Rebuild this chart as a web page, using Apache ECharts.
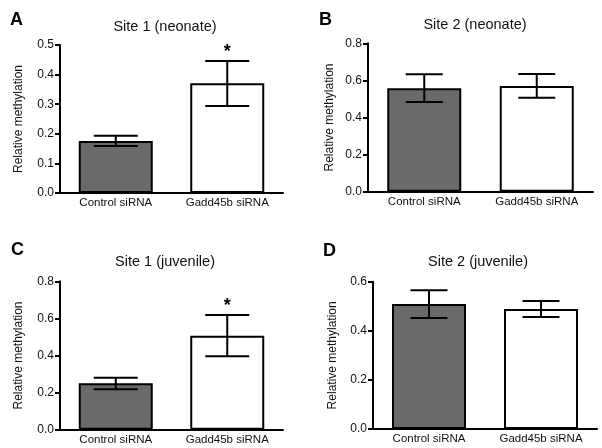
<!DOCTYPE html>
<html><head><meta charset="utf-8">
<script src="https://cdn.jsdelivr.net/npm/echarts@6/dist/echarts.min.js"></script>
<style>html,body{margin:0;padding:0;background:#fff}#c{width:602px;height:448px}</style>
</head><body><div id="c"></div>
<script>
const categories = ['Control siRNA', 'Gadd45b siRNA'];
const panelLetters = ['A', 'B', 'C', 'D'];
const panelTitles = ['Site 1 (neonate)', 'Site 2 (neonate)', 'Site 1 (juvenile)', 'Site 2 (juvenile)'];
const yMax = [0.5, 0.8, 0.8, 0.6];
const yStep = [0.1, 0.2, 0.2, 0.2];
const meanA = [0.176, 0.371];
const meanB = [0.558, 0.570];
const meanC = [0.250, 0.507];
const meanD = [0.509, 0.489];
const lowA = [0.159, 0.294], highA = [0.193, 0.446];
const lowB = [0.484, 0.507], highB = [0.633, 0.635];
const lowC = [0.218, 0.396], highC = [0.280, 0.618];
const lowD = [0.452, 0.456], highD = [0.565, 0.521];
const starA = [0, 1], starB = [0, 0], starC = [0, 1], starD = [0, 0];
const yName = 'Relative methylation';

const means = [meanA, meanB, meanC, meanD];
const lows = [lowA, lowB, lowC, lowD];
const highs = [highA, highB, highC, highD];
const stars = [starA, starB, starC, starD];

const FONT = 'Arial, "Liberation Sans", sans-serif';
const grids = [
  {left: 60, top: 45, width: 223, height: 148},
  {left: 368, top: 43.3, width: 225, height: 148.4},
  {left: 60, top: 281.3, width: 223, height: 148.4},
  {left: 373, top: 281.7, width: 224, height: 147.3}
];
const capHalf = [22, 18.5, 22, 18.5];
const titlePos = [[160, 14], [470, 12], [160, 249], [473, 249]];
const letterPos = [[5, 6], [314, 6], [6, 236], [318, 237]];
const nameGaps = [35, 32, 35, 34];

const option = {
  animation: false,
  backgroundColor: '#fff',
  title: [],
  grid: grids.map(g => Object.assign({containLabel: false}, g)),
  xAxis: [], yAxis: [], series: []
};

for (let p = 0; p < 4; p++) {
  option.title.push({text: panelTitles[p], left: titlePos[p][0], top: titlePos[p][1], textAlign: 'center',
    textStyle: {fontFamily: FONT, fontSize: 14.5, fontWeight: 'normal', color: '#111'}});
  option.title.push({text: panelLetters[p], left: letterPos[p][0], top: letterPos[p][1],
    textStyle: {fontFamily: FONT, fontSize: 18, fontWeight: 'bold', color: '#000'}});
  option.xAxis.push({type: 'category', gridIndex: p, data: categories,
    axisLine: {lineStyle: {color: '#000', width: 2}}, axisTick: {show: false},
    axisLabel: {fontFamily: FONT, fontSize: 11.5, color: '#111', margin: 4}});
  option.yAxis.push({type: 'value', gridIndex: p, min: 0, max: yMax[p], interval: yStep[p],
    name: yName, nameLocation: 'middle', nameGap: nameGaps[p],
    nameTextStyle: {fontFamily: FONT, fontSize: 12, color: '#111'},
    axisLine: {show: true, lineStyle: {color: '#000', width: 2}},
    axisTick: {show: true, inside: false, length: 5, lineStyle: {color: '#000', width: 2}},
    splitLine: {show: false},
    axisLabel: {fontFamily: FONT, fontSize: 12, color: '#111', margin: 6, formatter: v => v.toFixed(1)}});
  option.series.push({type: 'bar', xAxisIndex: p, yAxisIndex: p, barWidth: 74,
    data: means[p].map((v, i) => ({value: v, itemStyle: {color: i === 0 ? '#6a6a6a' : '#ffffff', borderColor: '#000', borderWidth: 2}}))});
  const ch = capHalf[p];
  option.series.push({type: 'custom', xAxisIndex: p, yAxisIndex: p, z: 5,
    data: categories.map((c, i) => [i, lows[p][i], highs[p][i], stars[p][i]]),
    renderItem: function (params, api) {
      const lo = api.coord([api.value(0), api.value(1)]);
      const hi = api.coord([api.value(0), api.value(2)]);
      const x = lo[0];
      const st = {stroke: '#000', lineWidth: 2};
      const children = [
        {type: 'line', shape: {x1: x, y1: lo[1], x2: x, y2: hi[1]}, style: st},
        {type: 'line', shape: {x1: x - ch, y1: lo[1], x2: x + ch, y2: lo[1]}, style: st},
        {type: 'line', shape: {x1: x - ch, y1: hi[1], x2: x + ch, y2: hi[1]}, style: st}
      ];
      if (api.value(3)) {
        children.push({type: 'text', style: {text: '*', x: x, y: hi[1] - 18, align: 'center', verticalAlign: 'top',
          font: 'bold 18px ' + FONT, fill: '#000'}});
      }
      return {type: 'group', children: children};
    }});
}

const chart = echarts.init(document.getElementById('c'), null, {renderer: 'canvas'});
chart.setOption(option);
</script></body></html>
